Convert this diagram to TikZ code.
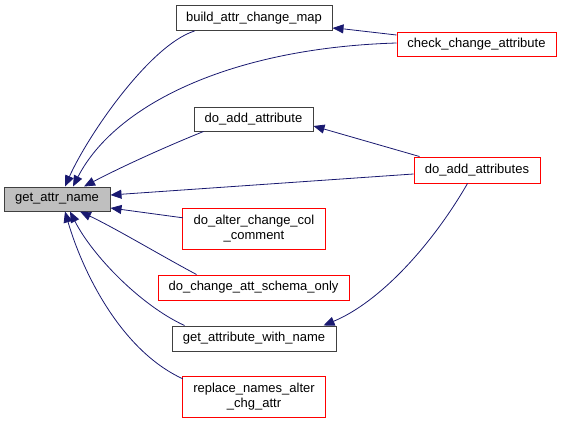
\documentclass[tikz,border=0pt]{standalone}
\usepackage{fontspec}
\setmainfont{Liberation Sans}
\usetikzlibrary{arrows.meta,calc}
\definecolor{edgeblue}{HTML}{191970}
\definecolor{boxgray}{HTML}{BFBFBF}
\definecolor{boxred}{HTML}{FF0000}
\definecolor{boxdark}{HTML}{404040}
\newcommand{\twolines}[2]{\vbox{\halign{\hfil##\hfil\cr\strut #1\cr\strut #2\cr}}}
\begin{document}
\begin{tikzpicture}[x=1pt,y=-1pt,
  every node/.style={font=\fontsize{13}{15}\selectfont, inner sep=0pt},
  blk/.style={draw=boxdark, line width=1pt, rectangle, minimum height=25pt},
  redb/.style={draw=boxred, line width=1pt, rectangle, minimum height=25pt},
  redtwo/.style={rectangle, minimum height=40pt},
  redframe/.style={draw=boxred, line width=1pt},
  link/.style={draw=edgeblue, line width=0.8pt, -{Triangle[length=11pt,width=9pt]}}]
\useasboundingbox (0,0) rectangle (563,423);

\node[blk, fill=boxgray, minimum width=106pt, minimum height=24pt] (gan) at (57,199) {get\_attr\_name};
\node[blk, minimum width=156pt] (build) at (254,18) {build\_attr\_change\_map};
\node[redb, minimum width=159pt, minimum height=24pt] (check) at (476.5,44) {check\_change\_attribute};
\node[blk, minimum width=119pt, minimum height=24pt] (dadd) at (253.5,119) {do\_add\_attribute};
\node[redb, minimum width=126pt, minimum height=26pt] (dadds) at (477,170) {do\_add\_attributes};
\node[redtwo, minimum width=142pt] (dalter) at (254,229) {\twolines{do\_alter\_change\_col}{\_comment}};
\draw[redframe] (dalter.south west) rectangle (dalter.north east);
\node[redb, minimum width=191pt] (dchange) at (253.5,287.5) {do\_change\_att\_schema\_only};
\node[blk, minimum width=164pt] (gawn) at (254,338.5) {get\_attribute\_with\_name};
\node[redtwo, minimum width=142pt] (repl) at (254,397) {\twolines{replace\_names\_alter}{\_chg\_attr}};
\draw[redframe] (repl.south west) rectangle (repl.north east);

\draw[link] ($(build.south west)+(19,0)$) .. controls (150,45) and (88,135) .. ($(gan.north)+(8,0)$);
\draw[link] ($(check.west)+(0,-1)$) .. controls (230,48) and (115,105) .. ($(gan.north)+(16,0)$);
\draw[link] ($(check.west)+(0,-9)$) .. controls (370,31) .. ($(build.east)+(0,10)$);
\draw[link] ($(dadd.south west)+(10,0)$) .. controls (170,145) and (125,165) .. ($(gan.north)+(27,0)$);
\draw[link] ($(dadds.north west)+(6,0)$) -- ($(dadd.east)+(0,7)$);
\draw[link] ($(dadds.west)+(0,4)$) -- ($(gan.east)+(0,-4)$);
\draw[link] ($(dalter.north west)+(0,9)$) -- ($(gan.east)+(0,9)$);
\draw[link] ($(dchange.north west)+(39,0)$) .. controls (160,255) and (115,228) .. ($(gan.south)+(23,0)$);
\draw[link] ($(gawn.north west)+(13,0)$) .. controls (140,305) and (92,255) .. ($(gan.south)+(13,0)$);
\draw[link] ($(dadds.south west)+(54,0)$) .. controls (432,245) and (380,302) .. ($(gawn.north east)+(-13,0)$);
\draw[link] ($(repl.north west)+(0,2)$) .. controls (120,350) and (82,270) .. ($(gan.south)+(8,0)$);
\end{tikzpicture}
\end{document}
